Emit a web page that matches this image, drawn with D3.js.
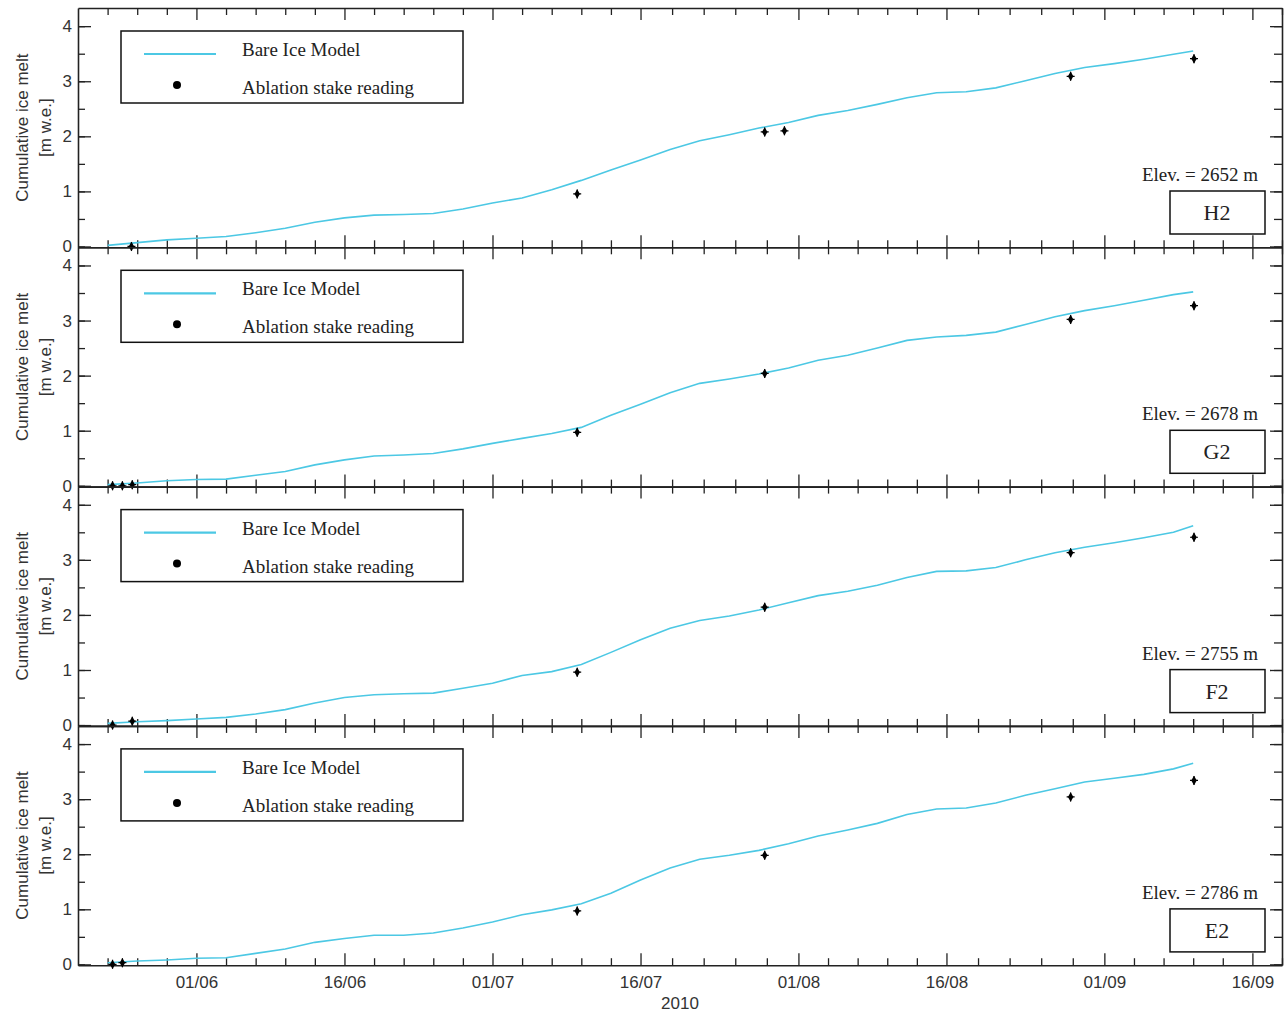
<!DOCTYPE html>
<html>
<head>
<meta charset="utf-8">
<script src="https://cdn.jsdelivr.net/npm/d3@7/dist/d3.min.js"></script>
<style>
  body { margin: 0; background: #fff; }
  svg { display: block; }
  .tick text { font-family: "Liberation Sans", Arial, sans-serif; font-size: 17px; fill: #333; }
</style>
</head>
<body>
<script>
// dates of the modelled series (shared by all stakes)
var modelDates = ["2010-05-23","2010-05-26","2010-05-29","2010-06-01","2010-06-04","2010-06-07","2010-06-10",
  "2010-06-13","2010-06-16","2010-06-19","2010-06-22","2010-06-25","2010-06-28","2010-07-01","2010-07-04",
  "2010-07-07","2010-07-10","2010-07-13","2010-07-16","2010-07-19","2010-07-22","2010-07-25","2010-07-28",
  "2010-07-31","2010-08-03","2010-08-06","2010-08-09","2010-08-12","2010-08-15","2010-08-18","2010-08-21",
  "2010-08-24","2010-08-27","2010-08-30","2010-09-02","2010-09-05","2010-09-08","2010-09-10"];

// cumulative melt, bare ice model [m w.e.]
var modelH2 = [0.02,0.07,0.12,0.15,0.18,0.25,0.33,0.44,0.52,0.57,0.58,0.60,0.68,0.79,0.88,1.03,1.20,1.39,1.57,
  1.76,1.92,2.03,2.15,2.25,2.38,2.47,2.58,2.70,2.79,2.81,2.88,3.01,3.14,3.25,3.32,3.40,3.49,3.55];
var modelG2 = [0.02,0.05,0.09,0.115,0.12,0.19,0.26,0.38,0.47,0.54,0.56,0.585,0.67,0.77,0.86,0.95,1.06,1.28,1.48,
  1.69,1.86,1.94,2.03,2.14,2.28,2.37,2.50,2.64,2.70,2.73,2.79,2.93,3.07,3.18,3.27,3.37,3.47,3.52];
var modelF2 = [0.03,0.06,0.08,0.11,0.14,0.20,0.28,0.40,0.50,0.55,0.57,0.58,0.67,0.76,0.90,0.97,1.10,1.32,1.55,
  1.76,1.90,1.98,2.09,2.22,2.35,2.43,2.54,2.68,2.79,2.80,2.86,3.00,3.13,3.23,3.31,3.40,3.50,3.62];
var modelE2 = [0.03,0.06,0.08,0.11,0.12,0.20,0.28,0.40,0.47,0.53,0.53,0.57,0.66,0.77,0.90,0.99,1.10,1.29,1.53,
  1.75,1.91,1.98,2.07,2.19,2.33,2.44,2.56,2.72,2.82,2.84,2.93,3.07,3.19,3.31,3.38,3.45,3.55,3.65];

// ablation stake readings
var stakeDatesH2 = ["2010-05-25 10:00","2010-07-09 14:00","2010-07-28 14:00","2010-07-30 14:00","2010-08-28 14:00","2010-09-10 02:00"];
var stakeH2 = [0.0,0.955,2.08,2.10,3.09,3.41];
var stakeDatesG2 = ["2010-05-23 12:00","2010-05-24 12:00","2010-05-25 12:00","2010-07-09 14:00","2010-07-28 14:00","2010-08-28 14:00","2010-09-10 02:00"];
var stakeG2 = [0.0,0.0,0.02,0.97,2.04,3.02,3.27];
var stakeDatesF2 = ["2010-05-23 12:00","2010-05-25 12:00","2010-07-09 14:00","2010-07-28 14:00","2010-08-28 14:00","2010-09-10 02:00"];
var stakeF2 = [0.0,0.07,0.96,2.14,3.13,3.41];
var stakeDatesE2 = ["2010-05-23 12:00","2010-05-24 12:00","2010-07-09 14:00","2010-07-28 14:00","2010-08-28 14:00","2010-09-10 02:00"];
var stakeE2 = [0.0,0.03,0.97,1.98,3.04,3.34];

var stationNames = ["H2","G2","F2","E2"];
var elevations = [2652,2678,2755,2786];
var yTicks = [0,1,2,3,4];
var majorDates = ["2010-06-01","2010-06-16","2010-07-01","2010-07-16","2010-08-01","2010-08-16","2010-09-01","2010-09-16"];

var models = [modelH2, modelG2, modelF2, modelE2];
var stakeVals = [stakeH2, stakeG2, stakeF2, stakeE2];
var stakeDates = [stakeDatesH2, stakeDatesG2, stakeDatesF2, stakeDatesE2];

var lineColor = "#4cc8e4";
var width = 1284, height = 1015;
var left = 78, right = 1282, top0 = 8, ph = 239.3;

var parseDay = d3.utcParse("%Y-%m-%d");
var parseTime = d3.utcParse("%Y-%m-%d %H:%M");

var x = d3.scaleUtc()
  .domain([parseDay("2010-05-20"), parseDay("2010-09-19")])
  .range([left, right]);

var majors = majorDates.map(parseDay);
// minor ticks: 4 between each pair of labelled dates, 3-day steps before the first
var minors = [];
for (var k = 1; k <= 3; k++) minors.push(d3.utcDay.offset(majors[0], -3 * k));
for (var i = 0; i < majors.length - 1; i++) {
  var a = +majors[i], b = +majors[i + 1];
  for (var j = 1; j < 5; j++) minors.push(new Date(a + (b - a) * j / 5));
}
minors.push(d3.utcDay.offset(majors[majors.length - 1], 3));

var svg = d3.select("body").append("svg")
  .attr("width", width)
  .attr("height", height);

var line = d3.line()
  .x(function(d) { return x(d.date); })
  .y(function(d) { return d.y; });

function styleAxis(g) {
  g.select(".domain").attr("stroke", "#222").attr("stroke-width", 1.6);
  g.selectAll(".tick line").attr("stroke", "#222").attr("stroke-width", 1.3);
}

stationNames.forEach(function(name, p) {
  var top = top0 + p * ph, bottom = top + ph;
  var y = d3.scaleLinear().domain([-0.015, 4.33]).range([bottom, top]);
  var g = svg.append("g");

  // y axes (ticks point inward on both sides)
  g.append("g").attr("transform", "translate(" + left + ",0)")
    .call(d3.axisLeft(y).tickValues(d3.range(0, 4.01, 0.5)).tickSizeInner(-7).tickSizeOuter(0).tickFormat(""))
    .call(styleAxis);
  g.append("g").attr("transform", "translate(" + left + ",0)")
    .call(d3.axisLeft(y).tickValues(yTicks).tickSizeInner(-13).tickSizeOuter(0).tickPadding(6).tickFormat(d3.format("d")))
    .call(styleAxis)
    .call(function(s) { s.select(".domain").remove(); });
  g.append("g").attr("transform", "translate(" + right + ",0)")
    .call(d3.axisRight(y).tickValues(d3.range(0, 4.01, 0.5)).tickSizeInner(-8).tickSizeOuter(0).tickFormat(""))
    .call(styleAxis);
  g.append("g").attr("transform", "translate(" + right + ",0)")
    .call(d3.axisRight(y).tickValues(yTicks).tickSizeInner(-12).tickSizeOuter(0).tickFormat(""))
    .call(styleAxis)
    .call(function(s) { s.select(".domain").remove(); });

  // bottom x axis, ticks inward
  var last = p === stationNames.length - 1;
  g.append("g").attr("transform", "translate(0," + bottom + ")")
    .call(d3.axisBottom(x).tickValues(minors).tickSizeInner(-7).tickSizeOuter(0).tickFormat(""))
    .call(styleAxis);
  g.append("g").attr("transform", "translate(0," + bottom + ")")
    .call(d3.axisBottom(x).tickValues(majors).tickSizeInner(-12).tickSizeOuter(0).tickPadding(11)
      .tickFormat(last ? d3.utcFormat("%d/%m") : ""))
    .call(styleAxis)
    .call(function(s) { s.select(".domain").remove(); });
  // top x axis, ticks inward
  g.append("g").attr("transform", "translate(0," + top + ")")
    .call(d3.axisTop(x).tickValues(minors).tickSizeInner(-7).tickSizeOuter(0).tickFormat(""))
    .call(styleAxis);
  g.append("g").attr("transform", "translate(0," + top + ")")
    .call(d3.axisTop(x).tickValues(majors).tickSizeInner(-12).tickSizeOuter(0).tickFormat(""))
    .call(styleAxis)
    .call(function(s) { s.select(".domain").remove(); });

  // y title
  var cy = (top + bottom) / 2;
  g.append("text")
    .attr("transform", "translate(28," + cy + ") rotate(-90)")
    .attr("text-anchor", "middle")
    .style("font-family", "'Liberation Sans', Arial, sans-serif")
    .style("font-size", "17px").style("fill", "#333")
    .text("Cumulative ice melt");
  g.append("text")
    .attr("transform", "translate(51," + cy + ") rotate(-90)")
    .attr("text-anchor", "middle")
    .style("font-family", "'Liberation Sans', Arial, sans-serif")
    .style("font-size", "17px").style("fill", "#333")
    .text("[m w.e.]");

  // model line
  var series = modelDates.map(function(d, i) {
    return { date: parseDay(d), y: y(models[p][i]) };
  });
  g.append("path")
    .datum(series)
    .attr("fill", "none")
    .attr("stroke", lineColor)
    .attr("stroke-width", 1.6)
    .attr("d", line);

  // stake readings
  var pts = stakeDates[p].map(function(d, i) {
    return { date: parseTime(d), v: stakeVals[p][i] };
  });
  var mk = g.selectAll(".stake").data(pts).enter().append("g")
    .attr("class", "stake")
    .attr("transform", function(d) { return "translate(" + x(d.date) + "," + y(d.v) + ")"; });
  mk.append("path").attr("d", d3.symbol(d3.symbolDiamond, 26)).attr("fill", "#000");
  mk.append("path").attr("d", "M-4,0H4M0,-4.5V4.5").attr("stroke", "#000").attr("stroke-width", 1.2);

  // legend
  var serif = "'Liberation Serif', 'Times New Roman', serif";
  g.append("rect")
    .attr("x", 121).attr("y", top + 23).attr("width", 342).attr("height", 72)
    .attr("fill", "#fff").attr("stroke", "#111").attr("stroke-width", 1.5);
  g.append("line")
    .attr("x1", 144).attr("x2", 216).attr("y1", top + 46).attr("y2", top + 46)
    .attr("stroke", lineColor).attr("stroke-width", 2.2);
  g.append("text").attr("x", 242).attr("y", top + 48)
    .style("font-family", serif).style("font-size", "19px").style("fill", "#222")
    .text("Bare Ice Model");
  g.append("circle").attr("cx", 177).attr("cy", top + 77).attr("r", 4).attr("fill", "#000");
  g.append("text").attr("x", 242).attr("y", top + 86)
    .style("font-family", serif).style("font-size", "19px").style("fill", "#222")
    .text("Ablation stake reading");

  // elevation and station label
  g.append("text").attr("x", 1258).attr("y", top + 173)
    .attr("text-anchor", "end")
    .style("font-family", serif).style("font-size", "19px").style("fill", "#222")
    .text("Elev. = " + elevations[p] + " m");
  g.append("rect")
    .attr("x", 1170).attr("y", top + 183).attr("width", 95).attr("height", 43)
    .attr("fill", "#fff").attr("stroke", "#111").attr("stroke-width", 1.5);
  g.append("text").attr("x", 1217).attr("y", top + 212)
    .attr("text-anchor", "middle")
    .style("font-family", serif).style("font-size", "22px").style("fill", "#222")
    .text(name);
});

svg.append("text")
  .attr("x", 680).attr("y", 1009)
  .attr("text-anchor", "middle")
  .style("font-family", "'Liberation Sans', Arial, sans-serif")
  .style("font-size", "17px").style("fill", "#333")
  .text("2010");
</script>
</body>
</html>
